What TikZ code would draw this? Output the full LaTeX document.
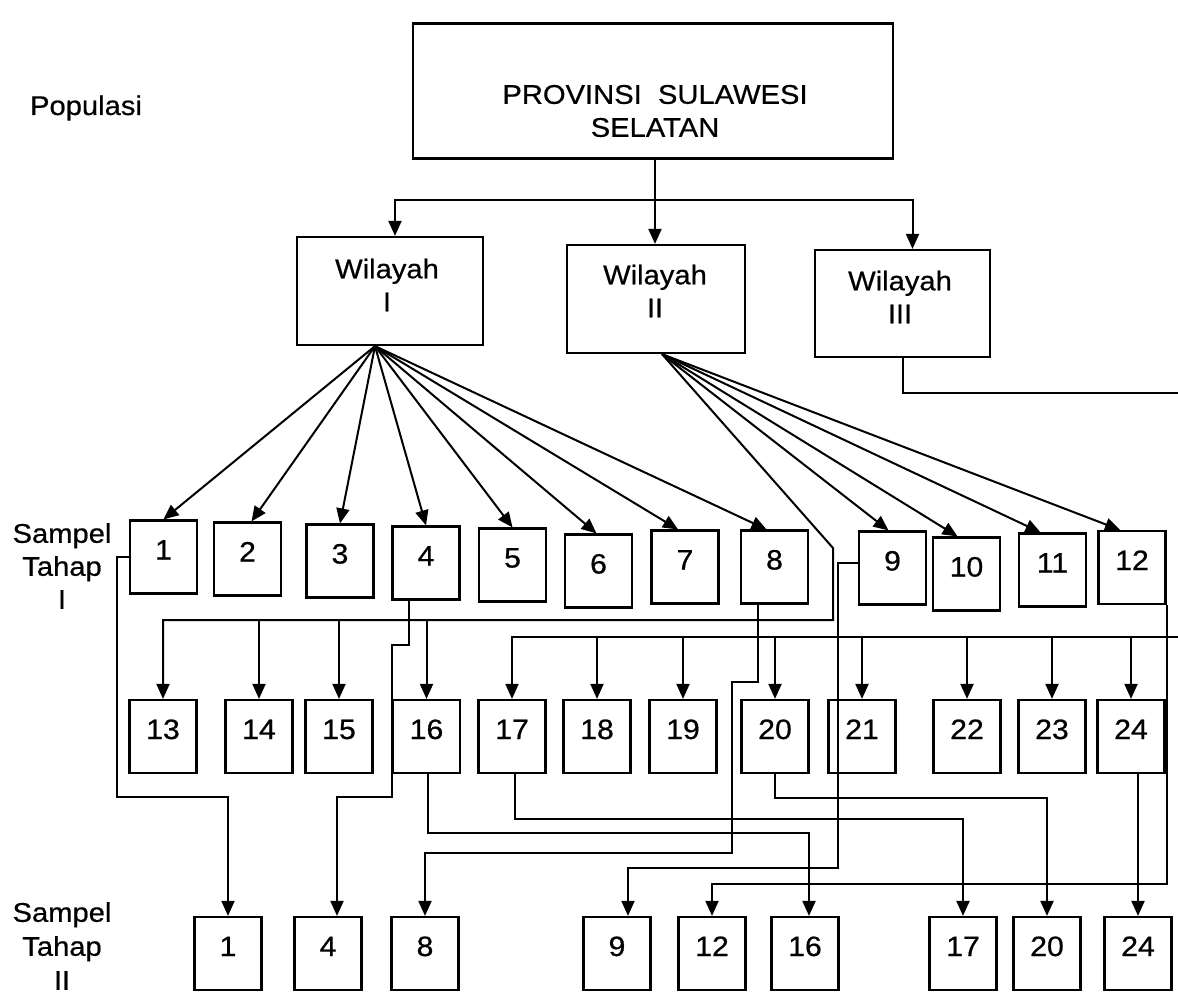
\documentclass[tikz,border=0pt]{standalone}
\usepackage{fontspec}
\setmainfont{Liberation Sans}[FakeStretch=1.08,FakeBold=0.6]
\usetikzlibrary{arrows.meta}
\begin{document}
\begin{tikzpicture}[x=1pt,y=-1pt,
  every node/.style={font=\fontsize{27}{33}\selectfont},
  ln/.style={line width=2pt},
  arr/.style={ln,-{Triangle[width=13pt,length=15pt]}},
  nbox/.style={draw,line width=2.2pt,minimum width=67pt,minimum height=73pt,inner sep=0pt,text height=21pt,text depth=16pt,font=\fontsize{28}{33}\selectfont},
  wbox/.style={draw,line width=2.2pt,inner sep=0pt},
  txt/.style={align=center,inner sep=0pt}]
\useasboundingbox (0,0) rectangle (1178,994);
\clip (0,0) rectangle (1178,994);

% labels
\node[txt] (pop) at (86,108) {Populasi};
\node[txt] (s1) at (62,566) {Sampel\\Tahap\\I};
\node[txt,font=\fontsize{27}{34}\selectfont] (s2) at (62,946) {Sampel\\Tahap\\II};

% top boxes
\node[wbox,minimum width=480pt,minimum height=135pt] (prov) at (653,91) {};
\node[txt] (provt) at (655,111) {PROVINSI~~SULAWESI\\SELATAN};
\node[wbox,minimum width=186pt,minimum height=108pt] (w1) at (390,291) {};
\node[txt] (w1t) at (387,285) {Wilayah\\I};
\node[wbox,minimum width=178pt,minimum height=108pt] (w2) at (656,299) {};
\node[txt] (w2t) at (655,291) {Wilayah\\II};
\node[wbox,minimum width=175pt,minimum height=107pt] (w3) at (902.5,303.5) {};
\node[txt] (w3t) at (900,297) {Wilayah\\III};

% stage I row 1
\node[nbox] (a1) at (163.5,557) {1};
\node[nbox] (a2) at (247.5,559) {2};
\node[nbox] (a3) at (340,561) {3};
\node[nbox] (a4) at (426,563) {4};
\node[nbox] (a5) at (512.5,565) {5};
\node[nbox] (a6) at (598.5,571) {6};
\node[nbox] (a7) at (685,567) {7};
\node[nbox] (a8) at (774.5,567) {8};
\node[nbox] (a9) at (892.5,568) {9};
\node[nbox] (a10) at (966.5,574) {10};
\node[nbox] (a11) at (1052.5,570) {11};
\node[nbox] (a12) at (1132,567.5) {12};

% stage I row 2
\node[nbox] (b13) at (163,736.5) {13};
\node[nbox] (b14) at (259,736.5) {14};
\node[nbox] (b15) at (339,736.5) {15};
\node[nbox] (b16) at (426.5,736.5) {16};
\node[nbox] (b17) at (512,736.5) {17};
\node[nbox] (b18) at (597,736.5) {18};
\node[nbox] (b19) at (683,736.5) {19};
\node[nbox] (b20) at (775,736.5) {20};
\node[nbox] (b21) at (862,736.5) {21};
\node[nbox] (b22) at (967,736.5) {22};
\node[nbox] (b23) at (1052,736.5) {23};
\node[nbox] (b24) at (1131,736.5) {24};

% stage II
\node[nbox] (c1) at (228,953.5) {1};
\node[nbox] (c4) at (328,953.5) {4};
\node[nbox] (c8) at (425,953.5) {8};
\node[nbox] (c9) at (617,953.5) {9};
\node[nbox] (c12) at (712,953.5) {12};
\node[nbox] (c16) at (805,953.5) {16};
\node[nbox] (c17) at (963,953.5) {17};
\node[nbox] (c20) at (1047,953.5) {20};
\node[nbox] (c24) at (1138,953.5) {24};

% province to regions
\coordinate (split) at (655,200);
\draw[arr] (prov.south -| split) -- (split) -- (w2.north -| split);
\draw[arr] (split) -| ([xshift=5pt]w1.north);
\draw[arr] (split) -| ([xshift=10pt]w3.north);

% Wilayah I fan
\coordinate (f1) at ([xshift=-15pt]w1.south);
\foreach \n/\s in {1/0,2/4,3/0,4/0,5/0,6/-2,7/-7,8/-8}
  \draw[arr] (f1) -- ([xshift=\s pt]a\n.north);

% Wilayah II fan
\coordinate (f2) at ([xshift=6pt]w2.south);
\foreach \n/\s in {9/-4,10/-9,11/-12,12/-12}
  \draw[arr] (f2) -- ([xshift=\s pt]a\n.north);
\coordinate (ka) at (833,548);
\coordinate (busA) at (833,620);
\draw[arr] (f2) -- (ka) -- (busA) -| (b13.north);
\foreach \n in {14,15,16}
  \draw[arr] (busA -| b\n.north) -- (b\n.north);

% Wilayah III bus
\coordinate (off1) at (1200,393);
\coordinate (off2) at (1200,637);
\draw[arr] (w3.south) -- (w3.south |- off1) -- (off1) -- (off2) -| (b17.north);
\foreach \n in {18,...,24}
  \draw[arr] (off2 -| b\n.north) -- (b\n.north);

% stage I -> stage II
\draw[arr] (a1.west) -| (117,797) -| (c1.north);
\draw[arr] ([xshift=-17pt]a4.south) |- (392,645) |- (337,797) -- ([xshift=9pt]c4.north);
\draw[arr] ([xshift=-17pt]a8.south) |- (732,682) |- (425,853) -- (c8.north);
\draw[arr] ([yshift=5pt]a9.west) -| (838,868) -| ([xshift=11pt]c9.north);
\draw[arr] (a12.south east) -- ++(0,279) -| (c12.north);
\draw[arr] ([xshift=1pt]b16.south) -- ++(0,59) -| ([xshift=4pt]c16.north);
\draw[arr] ([xshift=3pt]b17.south) -- ++(0,45) -| (c17.north);
\draw[arr] (b20.south) -- ++(0,24) -| (c20.north);
\draw[arr] (c24.north |- b24.south) -- (c24.north);
\end{tikzpicture}
\end{document}
